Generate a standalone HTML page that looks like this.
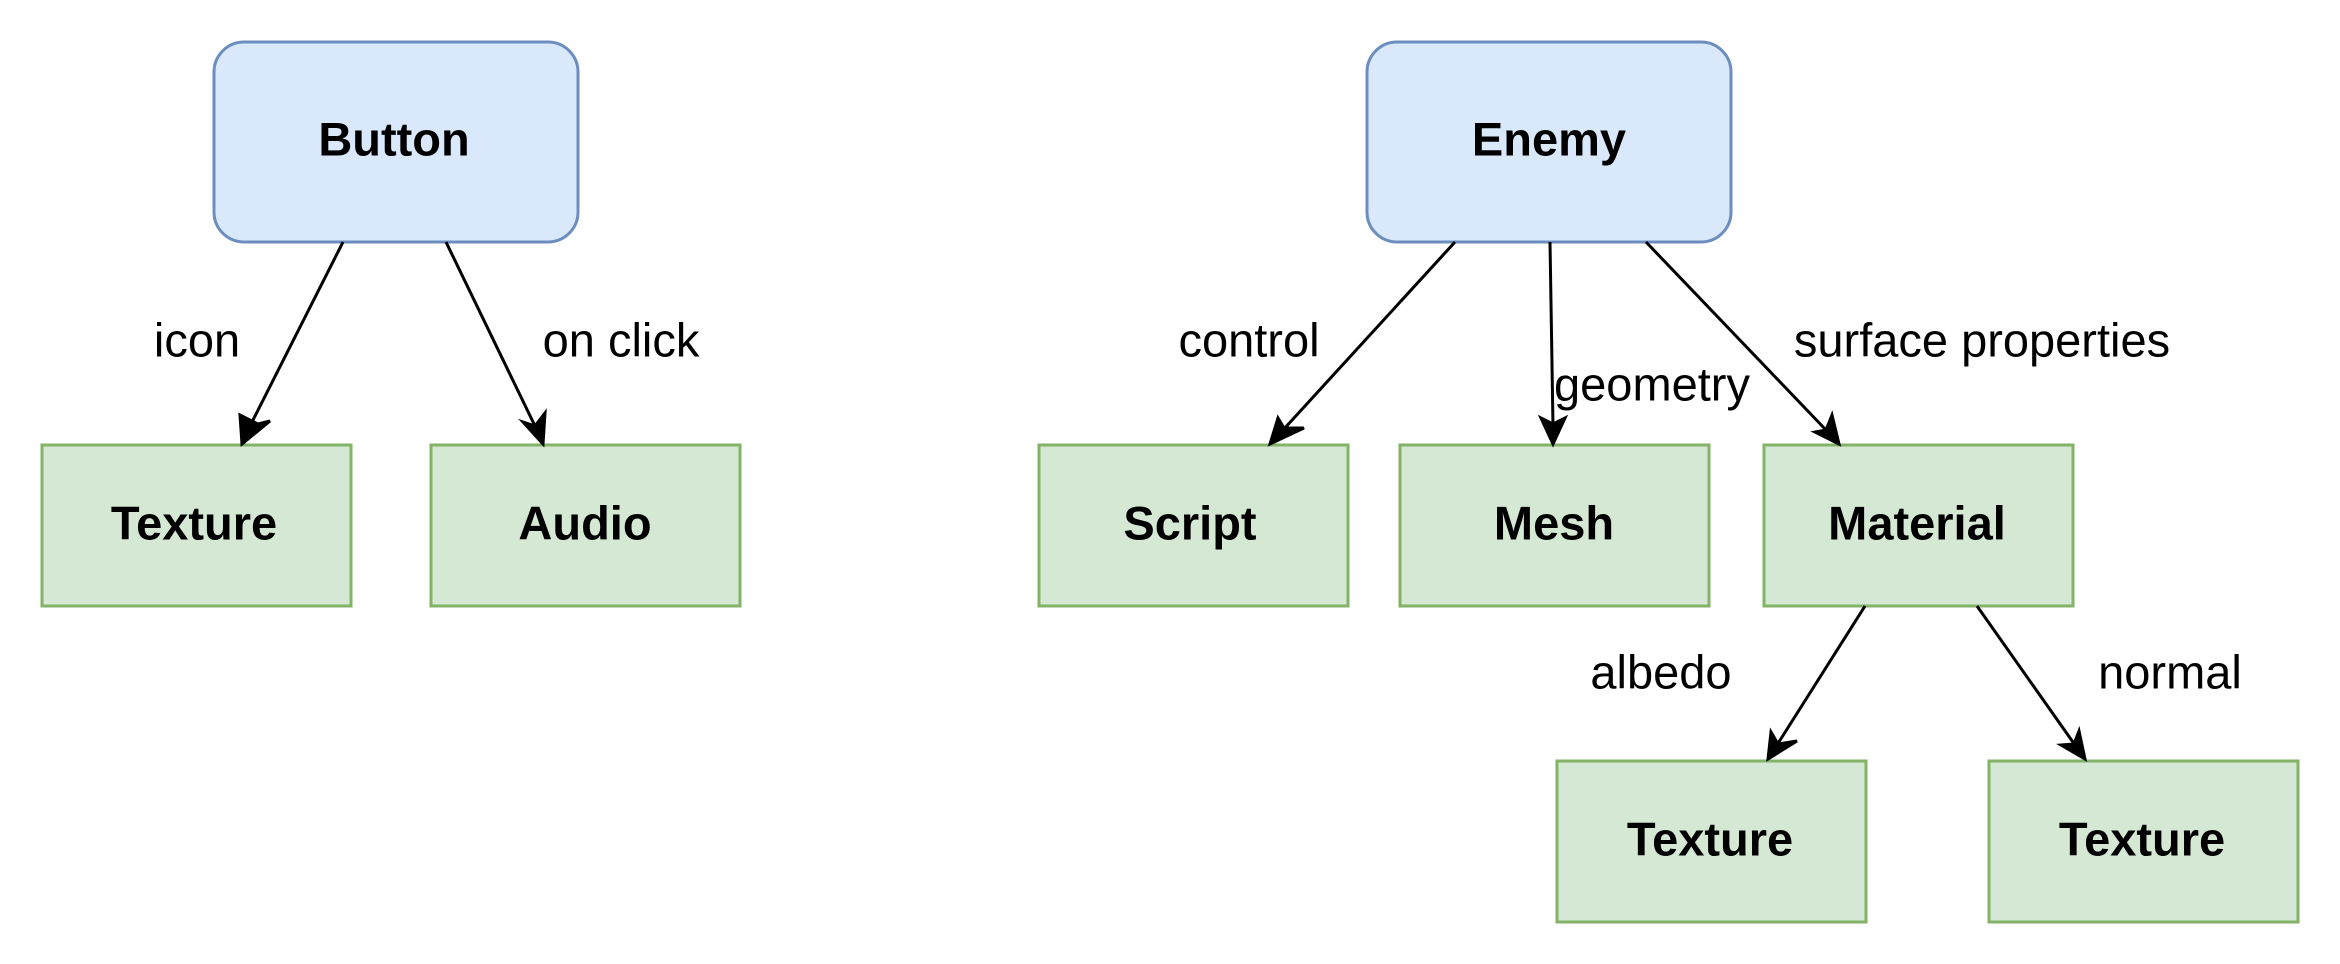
<!DOCTYPE html>
<html><head><meta charset="utf-8"><style>
html,body{margin:0;padding:0;background:#fff;}
svg{display:block;}
text{font-family:"Liberation Sans",Arial,sans-serif;}
.n{font-weight:bold;font-size:47px;text-anchor:middle;dominant-baseline:central;}
.l{font-size:47px;text-anchor:middle;dominant-baseline:central;}
.b{fill:#dae8fc;stroke:#6c8ebf;stroke-width:3;}
.g{fill:#d5e8d4;stroke:#82b366;stroke-width:3;}
</style></head><body>
<svg width="2340" height="964" viewBox="0 0 2340 964" xmlns="http://www.w3.org/2000/svg">
<rect class="b" x="214" y="42" width="364" height="200" rx="30"/>
<text class="n" x="394" y="139">Button</text>
<rect class="b" x="1367" y="42" width="364" height="200" rx="30"/>
<text class="n" x="1549" y="139">Enemy</text>

<rect class="g" x="42" y="445" width="309" height="161"/><text class="n" x="194" y="523">Texture</text>
<rect class="g" x="431" y="445" width="309" height="161"/><text class="n" x="585" y="523">Audio</text>
<rect class="g" x="1039" y="445" width="309" height="161"/><text class="n" x="1190" y="523">Script</text>
<rect class="g" x="1400" y="445" width="309" height="161"/><text class="n" x="1554" y="523">Mesh</text>
<rect class="g" x="1764" y="445" width="309" height="161"/><text class="n" x="1917" y="523">Material</text>
<rect class="g" x="1557" y="761" width="309" height="161"/><text class="n" x="1710" y="839">Texture</text>
<rect class="g" x="1989" y="761" width="309" height="161"/><text class="n" x="2142" y="839">Texture</text>

<g stroke="#000" stroke-width="3" fill="#000">
<line x1="343" y1="242" x2="250" y2="426"/><polygon points="242,444 240,415 258,424 270,421"/>
<line x1="446" y1="242" x2="535" y2="426"/><polygon points="543,444 523,422 535,426 545,413"/>
<line x1="1455" y1="242" x2="1283" y2="430"/>
<polygon points="1270,444 1278,418 1284,428 1304,428"/>
<line x1="1550" y1="242" x2="1553" y2="426"/>
<polygon points="1553,444 1541,418 1553,424 1565,418"/>
<line x1="1646" y1="242" x2="1826" y2="430"/>
<polygon points="1839,444 1815,432 1826,430 1832,415"/>
<line x1="1865" y1="606" x2="1777" y2="745"/>
<polygon points="1768,759 1771,732 1778,744 1797,741"/>
<line x1="1977" y1="606" x2="2075" y2="745"/>
<polygon points="2085,759 2061,745 2074,744 2079,731"/>
</g>

<text class="l" x="197" y="340">icon</text>
<text class="l" x="621" y="340">on click</text>
<text class="l" x="1249" y="340">control</text>
<text class="l" x="1652" y="384">geometry</text>
<text class="l" x="1982" y="340">surface properties</text>
<text class="l" x="1661" y="672">albedo</text>
<text class="l" x="2170" y="672">normal</text>
</svg>
</body></html>
